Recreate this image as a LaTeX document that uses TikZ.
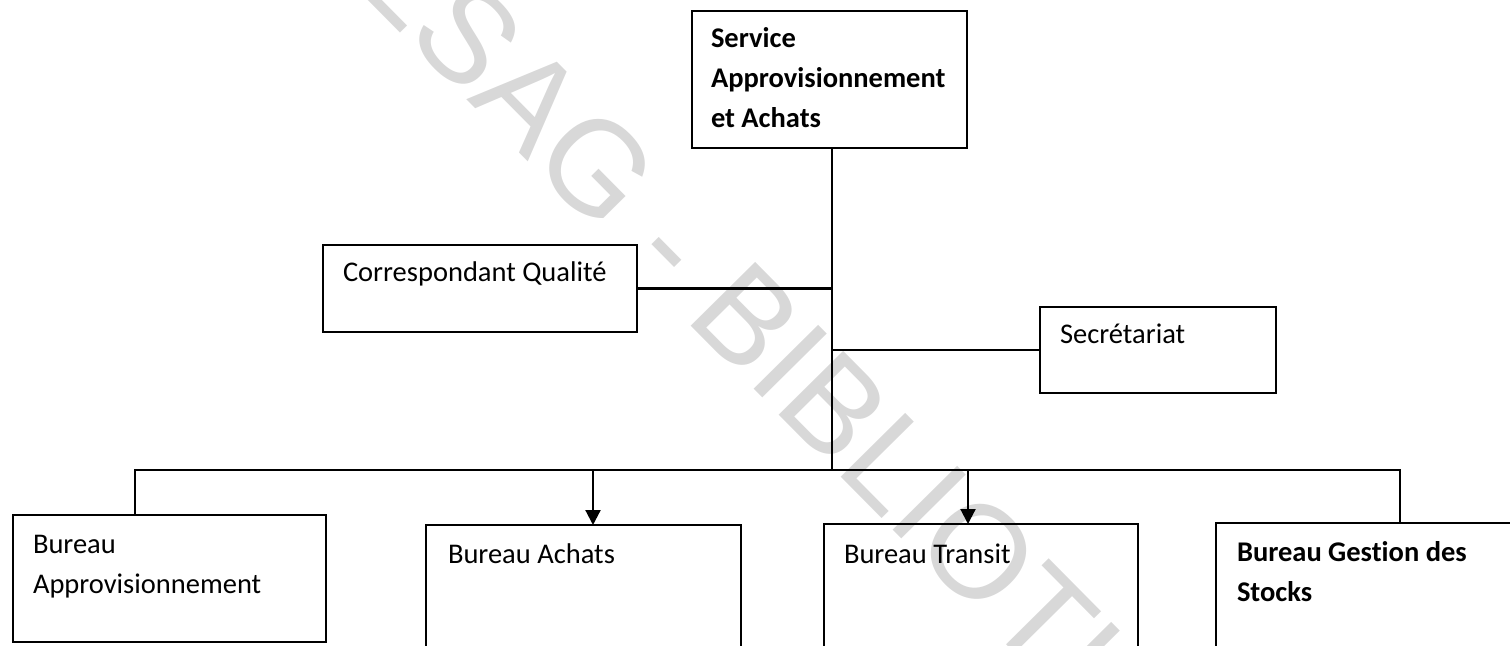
\documentclass[tikz,border=0pt]{standalone}
\usepackage{fontspec}
\setmainfont{Carlito}[Ligatures=NoCommon]
\newfontfamily\wmfont{Liberation Sans}
\usetikzlibrary{arrows.meta,calc}

\definecolor{wmgray}{RGB}{216,216,216}

\tikzset{
  orgbox/.style={draw, line width=1.1pt, fill=none, inner sep=0pt, outer sep=0pt,
                 anchor=north west},
  % multi-line labels are anchored at the baseline of their last line
  boxtext/.style={inner sep=0pt, outer sep=0pt, anchor=base west, align=left,
                  font=\fontsize{14.25}{20}\selectfont},
  boldtext/.style={boxtext, font=\fontsize{14.25}{20}\selectfont\bfseries},
  link/.style={line width=1.1pt},
  arrowlink/.style={link, -{Triangle[width=7.5pt,length=7.5pt]}},
  watermark/.style={text=wmgray, inner sep=0pt, anchor=mid west, rotate=-45.3,
                    font=\wmfont\fontsize{66}{66}\selectfont}
}

\begin{document}
\begin{tikzpicture}[x=0.5pt, y=-0.5pt]
  \useasboundingbox (0,0) rectangle (1510,646);
  \clip (0,0) rectangle (1510,646);

  % library stamp running across the page
  \node[watermark] (stamp) at (279,-97) {CESAG - BIBLIOTHEQUE};

  % boxes
  \node[orgbox, minimum width=137.5pt, minimum height=68.5pt] (svc) at (692,11) {};
  \node[orgbox, minimum width=157pt,   minimum height=43.5pt] (cq)  at (323,245) {};
  \node[orgbox, minimum width=118pt,   minimum height=43pt]   (sec) at (1040,307) {};
  \node[orgbox, minimum width=156.5pt, minimum height=63.5pt] (appro)   at (13,515) {};
  \node[orgbox, minimum width=157.5pt, minimum height=70pt]   (achats)  at (426,525) {};
  \node[orgbox, minimum width=157pt,   minimum height=70pt]   (transit) at (824,524) {};
  \node[orgbox, minimum width=157pt,   minimum height=70pt]   (gestion) at (1216,523) {};

  % box labels
  \node[boldtext] (svcT) at (711,128) {Service\\Approvisionnement\\et Achats};
  \node[boxtext]  (cqT)  at (343,282) {Correspondant Qualité};
  \node[boxtext]  (secT) at (1060,344) {Secrétariat};
  \node[boxtext]  (approT)   at (33,593)   {Bureau\\Approvisionnement};
  \node[boxtext]  (achatsT)  at (448,563)  {Bureau Achats};
  \node[boxtext]  (transitT) at (844,563)  {Bureau Transit};
  \node[boldtext] (gestionT) at (1237,601) {Bureau Gestion des\\Stocks};

  % junction points of the tree
  \coordinate (hub)   at (832,470);
  \coordinate (busL)  at (135,470);
  \coordinate (busR)  at (1400,470);
  \coordinate (dropA) at (593,470);
  \coordinate (dropT) at (968,470);

  % trunk and side branches
  \draw[link] (svc.south -| hub) -- (hub);
  \draw[link] (cq.east) -- (cq.east -| hub);
  \draw[link] (hub |- sec.west) -- (sec.west);

  % horizontal bus and drops
  \draw[link] (busL |- appro.north) -- (busL) -- (busR) -- (busR |- gestion.north);
  \draw[arrowlink] (dropA) -- (dropA |- achats.north);
  \draw[arrowlink] (dropT) -- (dropT |- transit.north);
\end{tikzpicture}
\end{document}
